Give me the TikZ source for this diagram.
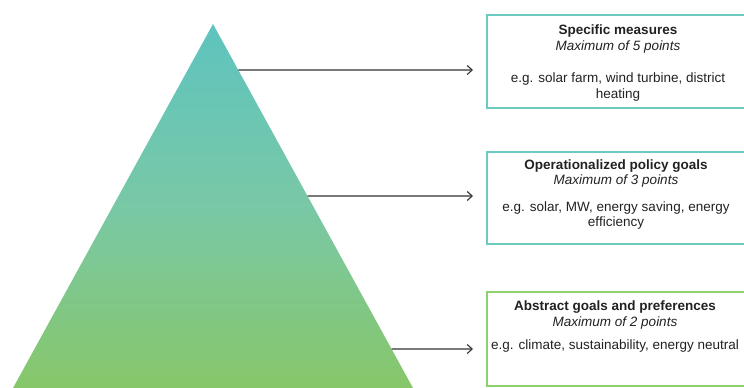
\documentclass[tikz,border=0pt]{standalone}
\usepackage{fontspec}
\setmainfont{Liberation Sans}
\usetikzlibrary{arrows.meta,calc}
\definecolor{tritop}{HTML}{5EC4BF}
\definecolor{trimid}{HTML}{79C8A6}
\definecolor{tribot}{HTML}{87C76A}
\definecolor{boxteal}{HTML}{6CCBC1}
\definecolor{boxgreen}{HTML}{8DD06D}
\definecolor{txtcol}{HTML}{222222}
\definecolor{arrcol}{HTML}{333333}
\tikzset{
  tealbox/.style={draw=boxteal, line width=2pt, fill=white, inner sep=0pt, anchor=north west, minimum width=262pt},
  greenbox/.style={tealbox, draw=boxgreen},
  lbl/.style={align=center, inner sep=0pt, anchor=north, text=txtcol, font=\fontsize{13.5}{15.5}\selectfont},
  conn/.style={draw=arrcol, line width=1.1pt, -{Straight Barb[length=5pt,width=9pt]}}
}
\begin{document}
\begin{tikzpicture}[x=1pt,y=-1pt]
\useasboundingbox (0,0) rectangle (744,388);
\clip (0,0) rectangle (744,388);
% pyramid
\coordinate (apex) at (213,24);
\coordinate (bl) at (13,388);
\coordinate (br) at (413,388);
\shade[top color=tritop, bottom color=tribot, middle color=trimid] (apex) -- (br) -- (bl) -- cycle;
% boxes
\node[tealbox, minimum height=93pt] (b1) at (486,14) {};
\node[tealbox, minimum height=92pt] (b2) at (486,151) {};
\node[greenbox, minimum height=94pt] (b3) at (486,291) {};
% labels
\node[lbl] (t1) at (618,25) {\textbf{Specific measures}\\\textit{Maximum of 5 points}\\[17pt]e.g. solar farm, wind turbine, district\\heating};
\node[lbl, font=\fontsize{13.5}{14.5}\selectfont] (t2) at (616,160) {\textbf{Operationalized policy goals}\\\textit{Maximum of 3 points}\\[13pt]e.g. solar, MW, energy saving, energy\\efficiency};
\node[lbl] (t3) at (615,301) {\textbf{Abstract goals and preferences}\\\textit{Maximum of 2 points}\\[8pt]e.g. climate, sustainability, energy neutral};
% connectors
\coordinate (s1) at ($(apex)!0.1264!(br)$);
\coordinate (s2) at ($(apex)!0.4725!(br)$);
\coordinate (s3) at ($(apex)!0.8929!(br)$);
\coordinate (e1) at (473,70);
\coordinate (e2) at (473,196);
\coordinate (e3) at (473,349);
\draw[conn] (s1) -- (e1);
\draw[conn] (s2) -- (e2);
\draw[conn] (s3) -- (e3);
\end{tikzpicture}
\end{document}
